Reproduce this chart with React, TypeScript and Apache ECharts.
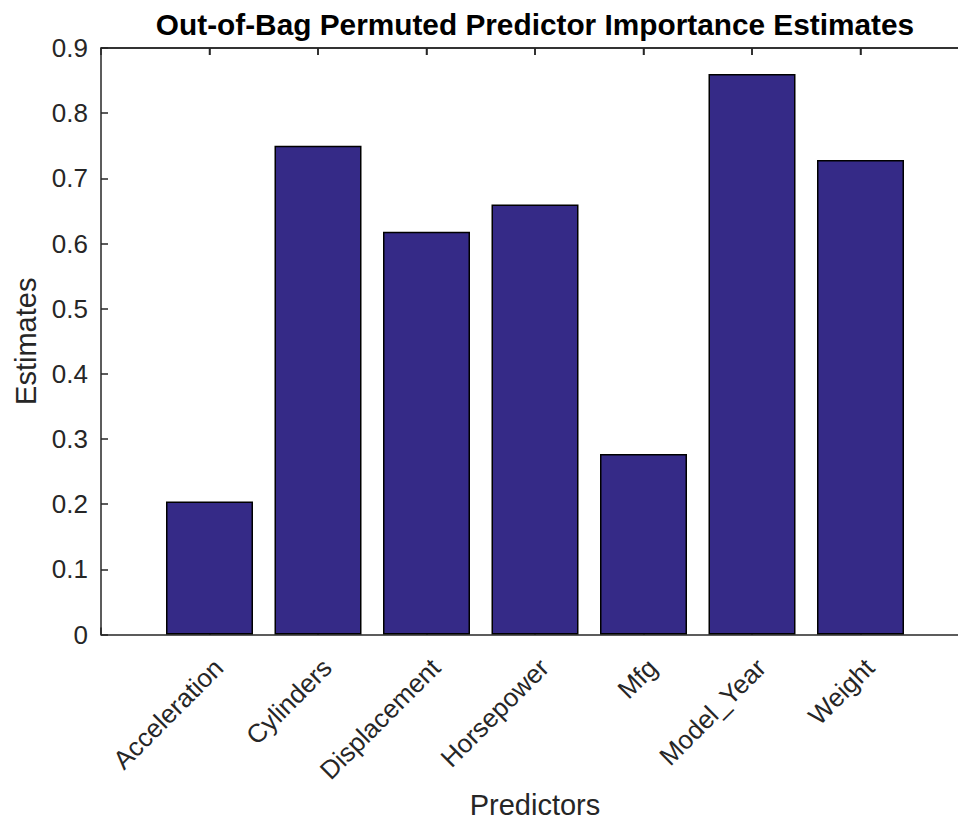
import React, { useEffect, useRef } from "react";
import * as echarts from "echarts";

const categories = ["Acceleration", "Cylinders", "Displacement", "Horsepower", "Mfg", "Model_Year", "Weight"];
const estimates = [0.204, 0.750, 0.618, 0.660, 0.277, 0.860, 0.728];
const yMin = 0;
const yMax = 0.9;
const yStep = 0.1;

const titleText = "Out-of-Bag Permuted Predictor Importance Estimates";
const xName = "Predictors";
const yName = "Estimates";

const FONT = "Liberation Sans, Arial, Helvetica, sans-serif";
const AXIS_COLOR = "#262626";
const GRID_H = 586.5;
const GRID_W = 868;
const TICK_PX = 7;

const mkLine = () => ({ color: AXIS_COLOR, width: 1.5 });

export default function App() {
  const ref = useRef<HTMLDivElement>(null);
  useEffect(() => {
    if (!ref.current) return;
    const chart = echarts.init(ref.current, undefined, { renderer: "svg" });
    const axisCats = ["", ...categories, ""];
    const seriesData: any[] = ["-", ...estimates, "-"];
    chart.setOption({
      animation: false,
      grid: {
        left: 101,
        top: 48,
        width: GRID_W,
        height: GRID_H,
        outerBoundsMode: "none",
      },
      xAxis: [
        {
          type: "category",
          data: axisCats,
          boundaryGap: false,
          position: "bottom",
          axisLine: { show: true, lineStyle: mkLine() },
          axisTick: { show: true, inside: true, length: TICK_PX, lineStyle: mkLine() },
          axisLabel: {
            interval: 0,
            rotate: 45,
            margin: 38,
            padding: [0, -13, 0, 0],
            fontFamily: FONT,
            fontSize: 26,
            color: AXIS_COLOR,
          },
          splitLine: { show: false },
          name: xName,
          nameLocation: "middle",
          nameGap: 152,
          nameTextStyle: { fontFamily: FONT, fontSize: 29, color: AXIS_COLOR },
        },
        {
          type: "category",
          data: axisCats,
          boundaryGap: false,
          position: "top",
          axisLine: { show: true, lineStyle: mkLine() },
          axisTick: { show: true, inside: true, length: TICK_PX, lineStyle: mkLine() },
          axisLabel: { show: true, color: "rgba(0,0,0,0)", fontSize: 1 },
          splitLine: { show: false },
        },
      ],
      yAxis: [
        {
          type: "value",
          min: yMin,
          max: yMax,
          interval: yStep,
          position: "left",
          axisLine: { show: true, lineStyle: mkLine() },
          axisTick: { show: true, inside: true, length: TICK_PX, lineStyle: mkLine() },
          axisLabel: {
            margin: 13,
            fontFamily: FONT,
            fontSize: 26,
            color: AXIS_COLOR,
            formatter: (v: number) => (v === 0 ? "0" : v.toFixed(1)),
          },
          splitLine: { show: false },
          name: yName,
          nameLocation: "middle",
          nameGap: 59,
          nameTextStyle: { fontFamily: FONT, fontSize: 29, color: AXIS_COLOR },
        },
      ],
      series: [
        {
          type: "bar",
          xAxisIndex: 0,
          yAxisIndex: 0,
          data: seriesData,
          barWidth: 87,
          itemStyle: { color: "#352a87", borderColor: "#000000", borderWidth: 1.5 },
        },
      ],
    });

    // Title and top box edge with inward ticks, positioned through the chart's own scales
    const yTop = chart.convertToPixel({ yAxisIndex: 0 }, yMax) as number;
    const xLeft = chart.convertToPixel({ xAxisIndex: 0 }, 0) as number;
    const xRight = xLeft + GRID_W;
    const elements: any[] = [
      {
        type: "text",
        x: xLeft + GRID_W / 2,
        y: 9,
        silent: true,
        style: {
          text: titleText,
          fontFamily: FONT,
          fontSize: 29.8,
          fontWeight: "bold",
          fill: "#000000",
          align: "center",
          verticalAlign: "top",
        },
      },
      {
        type: "line",
        z: 100,
        silent: true,
        shape: { x1: xLeft, y1: yTop, x2: xRight, y2: yTop },
        style: { stroke: AXIS_COLOR, lineWidth: 1.5 },
      },
    ];
    categories.forEach((c) => {
      const x = chart.convertToPixel({ xAxisIndex: 0 }, c) as number;
      elements.push({
        type: "line",
        z: 100,
        silent: true,
        shape: { x1: x, y1: yTop, x2: x, y2: yTop + TICK_PX },
        style: { stroke: AXIS_COLOR, lineWidth: 1.5 },
      });
    });
    chart.setOption({ graphic: { elements } });

    return () => chart.dispose();
  }, []);
  return (
    <div style={{ position: "fixed", left: 0, top: 0, width: 958, height: 822, overflow: "hidden", background: "#fff" }}>
      <div ref={ref} style={{ width: 1000, height: 822 }} />
    </div>
  );
}
